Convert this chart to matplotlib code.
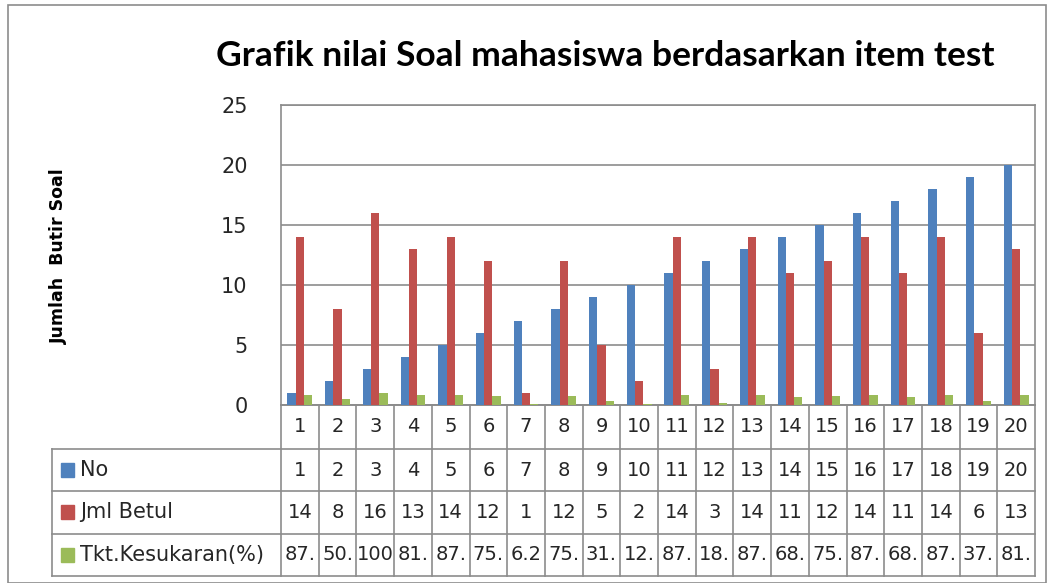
import matplotlib.pyplot as plt
from matplotlib.patches import Rectangle
import matplotlib.transforms as mtransforms

plt.rcParams['font.family'] = ['DejaVu Sans']

# Datos
categorias = [str(i) for i in range(1, 21)]
no = [1, 2, 3, 4, 5, 6, 7, 8, 9, 10, 11, 12, 13, 14, 15, 16, 17, 18, 19, 20]
jml_betul = [14, 8, 16, 13, 14, 12, 1, 12, 5, 2, 14, 3, 14, 11, 12, 14, 11, 14, 6, 13]
tkt_kesukaran = [0.875, 0.5, 1.0, 0.8125, 0.875, 0.75, 0.0625, 0.75, 0.3125, 0.125,
                 0.875, 0.1875, 0.875, 0.6875, 0.75, 0.875, 0.6875, 0.875, 0.375, 0.8125]
tkt_labels = ['87.', '50.', '100', '81.', '87.', '75.', '6.2', '75.', '31.', '12.',
              '87.', '18.', '87.', '68.', '75.', '87.', '68.', '87.', '37.', '81.']

series = [('No', no, '#4F81BD'),
          ('Jml Betul', jml_betul, '#C0504D'),
          ('Tkt.Kesukaran(%)', tkt_kesukaran, '#9BBB59')]
row_text = [[str(v) for v in no], [str(v) for v in jml_betul], tkt_labels]

W, H = 1052, 583
fig = plt.figure(figsize=(W / 100, H / 100), dpi=100)
ax = fig.add_axes([281 / W, (H - 405) / H, 754 / W, 300 / H])

# Marco exterior
fig.patches.append(Rectangle((8 / W, 0), 1038 / W, (H - 5) / H, transform=fig.transFigure,
                             fill=False, edgecolor='#8c8c8c', linewidth=1.2))

n = len(categorias)
x = list(range(n))
bw = 0.22
for k, (name, vals, color) in enumerate(series):
    ax.bar([i + (k - 1) * bw for i in x], vals, width=bw, color=color, zorder=3)

ax.set_xlim(-0.5, n - 0.5)
ax.set_ylim(0, 25)
ax.set_yticks([0, 5, 10, 15, 20, 25])
ax.yaxis.grid(True, color='#8c8c8c', linewidth=1.2, zorder=0)
ax.tick_params(axis='y', length=0, pad=24, labelsize=15, labelcolor='#262626')
ax.tick_params(axis='x', length=0, labelbottom=False)
for s in ax.spines.values():
    s.set_color('#8c8c8c')
    s.set_linewidth(1.2)

fig.text(605 / W, 1 - 56 / H, 'Grafik nilai Soal mahasiswa berdasarkan item test',
         fontsize=25.5, fontweight='bold', ha='center', va='center', family='Lato')
fig.text(59 / W, 1 - 256 / H, 'Jumlah  Butir Soal', rotation=90, fontsize=12.5,
         fontweight='bold', ha='center', va='center')

# Tabla de datos
trans = mtransforms.blended_transform_factory(ax.transData, ax.transAxes)
px = 1 / 300
row_lines = [0, -44 * px, -86 * px, -128.5 * px, -171 * px]
lc = '#8c8c8c'
hdr_left = (52 - 281) / 754
for j, y in enumerate(row_lines):
    x0 = hdr_left if j >= 1 else 0
    ax.plot([x0, 1], [y, y], transform=ax.transAxes, color=lc, lw=1.2, clip_on=False)
for i in range(n + 1):
    ax.plot([i - 0.5, i - 0.5], [0, row_lines[-1]], transform=trans, color=lc, lw=1.2,
            clip_on=False)
ax.plot([hdr_left, hdr_left], [row_lines[1], row_lines[-1]], transform=ax.transAxes,
        color=lc, lw=1.2, clip_on=False)

yc = (row_lines[0] + row_lines[1]) / 2
for i, c in enumerate(categorias):
    ax.text(i, yc, c, transform=trans, ha='center', va='center', fontsize=14,
            color='#262626')
for r, (name, vals, color) in enumerate(series):
    yc = (row_lines[r + 1] + row_lines[r + 2]) / 2
    for i, t in enumerate(row_text[r]):
        ax.text(i, yc, t, transform=trans, ha='center', va='center', fontsize=14,
                color='#262626')
    ax.add_patch(Rectangle(((61 - 281) / 754, yc - 7 * px), 13 / 754, 14 * px,
                           transform=ax.transAxes, color=color, clip_on=False))
    ax.text((80 - 281) / 754, yc, name, transform=ax.transAxes, ha='left', va='center',
            fontsize=15, color='#262626')

fig.savefig('out.png', dpi=100)
